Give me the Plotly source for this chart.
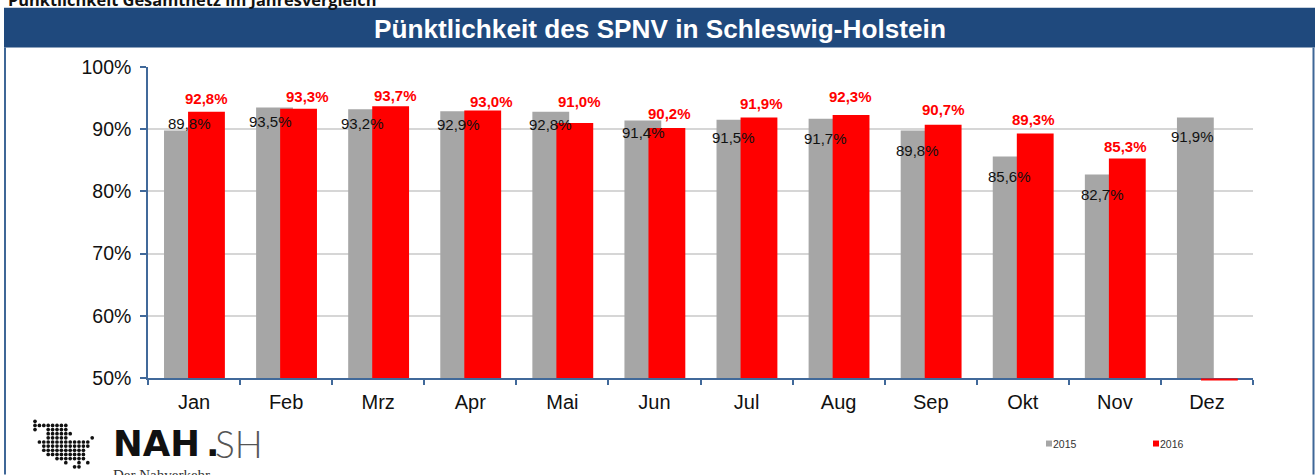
import plotly.graph_objects as go

MONTHS = ["Jan","Feb","Mrz","Apr","Mai","Jun","Jul","Aug","Sep","Okt","Nov","Dez"]
Y2015 = [89.8,93.5,93.2,92.9,92.8,91.4,91.5,91.7,89.8,85.6,82.7,91.9]
Y2016 = [92.8,93.3,93.7,93.0,91.0,90.2,91.9,92.3,90.7,89.3,85.3,None]
DEZ_2016 = 49.6
TITLE = "Pünktlichkeit des SPNV in Schleswig-Holstein"
HEADER = "Pünktlichkeit Gesamtnetz im Jahresvergleich"

# hand-placed label nudges, in pixels, relative to the bar-group centre / bar top
GRAY_DX = [-5,-16,-16,-12,-12,-11,-13,-13,-13,-13,-12,-14]
GRAY_DY = [7,-14,-14,-13,-13,-12,-18,-20,-20,-20,-20,-19]
RED_DX = [12,21,17,21,17,15,15,12,13,11,11]
RED_DY = [13,12,11,9,21,14,14,18,15,14,12]

LOGO = [
"#",
"########",
"#..#####",
"...######",
"...#####.....#",
".############",
"..###########",
"..##########",
"...#########",
".....#######",
".......#..#.#",
".........##",
]

W, H = 1316, 475
L, R, T, B = 148, 1253, 66.5, 378.3
BLUE = "#1f497d"
AXIS = "#41699a"
FONT = "Liberation Sans, Arial"
BAR_W, OFF_2015, OFF_2016 = 0.40, -0.326, -0.065

def px(x):
    return (x - L) / (R - L)

def py(y):
    return (B - y) / (B - T)

fig = go.Figure()
fig.add_bar(x=MONTHS, y=Y2015, name="2015", marker=dict(color="#a6a6a6", line_width=0),
            width=BAR_W, offset=OFF_2015, showlegend=False)
fig.add_bar(x=MONTHS, y=Y2016, name="2016", marker=dict(color="#ff0000", line_width=0),
            width=BAR_W, offset=OFF_2016, showlegend=False)

ann = []
def txt(x, y, s, size, color="#111111", family=FONT, xanchor="center", weight=None):
    f = dict(size=size, color=color, family=family)
    if weight:
        f["weight"] = weight
    ann.append(dict(x=px(x), y=py(y), xref="paper", yref="paper", text=s, showarrow=False,
                    xanchor=xanchor, yanchor="middle", font=f))

txt(659.5, 28.5, f"<b>{TITLE}</b>", 26.2, "white")
txt(6, -1, f"<b>{HEADER}</b>", 16.4, "#111111", "Open Sans", "left")
txt(111, 444, "<b>NAH</b>", 35.5, "#111111", "DejaVu Sans", "left")
txt(204, 444, "<b>.</b>", 35.5, "#111111", "DejaVu Sans", "left")
txt(213, 444, "SH", 37, "#555555", "Lato", "left", 300)
txt(111, 476, "Der Nahverkehr", 15, "#333333", "Liberation Serif", "left")
txt(1051, 444, "2015", 10.5, "#333333", FONT, "left")
txt(1158, 444, "2016", 10.5, "#333333", FONT, "left")

for i, v in enumerate(Y2015):
    ann.append(dict(x=MONTHS[i], y=v, text=f"{v:.1f}%".replace(".", ","), showarrow=False,
                    xshift=GRAY_DX[i], yshift=GRAY_DY[i], yanchor="middle",
                    font=dict(size=15, color="#111111", family=FONT)))
for i, v in enumerate(Y2016):
    if v is None:
        continue
    ann.append(dict(x=MONTHS[i], y=v, text=f"<b>{v:.1f}%</b>".replace(".", ","), showarrow=False,
                    xshift=RED_DX[i], yshift=RED_DY[i], yanchor="middle",
                    font=dict(size=15, color="#ff0000", family=FONT)))

def rect(x0, y0, x1, y1, color, kind="rect", layer="below"):
    return dict(type=kind, xref="paper", yref="paper", x0=px(x0), x1=px(x1), y0=py(y0), y1=py(y1),
                fillcolor=color, line_width=0, layer=layer)

shapes = [
    rect(4, 7, 1315, 47, BLUE),
    rect(4, 47, 6, 475, "#3f6797"),
    rect(1312.5, 47, 1314.5, 475, "#3f6797"),
    rect(1046, 441, 1052, 447, "#a6a6a6"),
    rect(1153, 441, 1159, 447, "#ff0000"),
    # Dez 2016 sits just under the axis, where bars are clipped: same scale, drawn unclipped
    dict(type="rect", xref="paper", yref="paper", line_width=0, fillcolor="#ff0000", layer="above",
         x0=(11 + 0.5 + OFF_2016) / 12, x1=(11 + 0.5 + OFF_2016 + BAR_W) / 12,
         y0=(DEZ_2016 - 50) / 50, y1=-0.002),
]
for r, row in enumerate(LOGO):
    for c, ch in enumerate(row):
        if ch == "#":
            cx, cy = 35 + c * 4.4, 421.7 + r * 4.15
            shapes.append(rect(cx - 1.85, cy - 1.85, cx + 1.85, cy + 1.85, "#111111", "circle", "above"))

fig.update_layout(
    width=W, height=H, autosize=False, barmode="overlay",
    margin=dict(l=L, r=W - R, t=T, b=H - B, pad=0),
    paper_bgcolor="white", plot_bgcolor="white",
    font=dict(family=FONT, color="#111111"),
    annotations=ann, shapes=shapes,
    xaxis=dict(type="category", categoryorder="array", categoryarray=MONTHS, range=[-0.5, 11.5],
               tickson="boundaries", ticks="outside", ticklen=5, tickwidth=1.5, tickcolor=AXIS,
               showline=True, linecolor=AXIS, linewidth=1.5, showgrid=False,
               tickfont=dict(size=20), ticklabelstandoff=5),
    yaxis=dict(range=[50, 100], dtick=10, ticksuffix="%", ticks="outside", ticklen=6, tickwidth=1.5,
               tickcolor=AXIS, showline=True, linecolor=AXIS, linewidth=1.5,
               gridcolor="#d6d6d6", gridwidth=1.5, zeroline=False,
               tickfont=dict(size=19.5), ticklabelstandoff=5),
)

fig.write_html("out.html", config={"displayModeBar": False},
               post_script="document.body.style.margin='0';")
